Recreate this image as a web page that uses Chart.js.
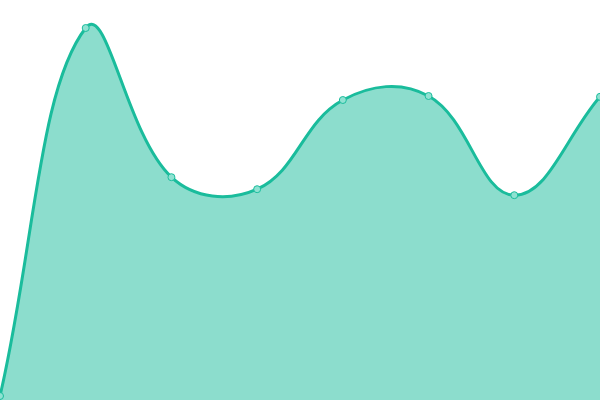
<!DOCTYPE html>
<html>
<head>
<meta charset="utf-8">
<script src="https://cdn.jsdelivr.net/npm/chart.js@4"></script>
<style>
  html, body { margin: 0; padding: 0; background: #fff; }
  #wrap { width: 600px; height: 400px; }
</style>
</head>
<body>
<div id="wrap"><canvas id="areaChart"></canvas></div>
<script>
const labels = ['1', '2', '3', '4', '5', '6', '7', '8'];
const values = [1, 93, 55.7, 52.7, 75, 76, 51.2, 75.8];

const config = {
  type: 'line',
  data: {
    labels: labels,
    datasets: [{
      label: 'Series',
      data: values,
      borderColor: '#1abc9c',
      backgroundColor: 'rgba(26, 188, 156, 0.5)',
      borderWidth: 3,
      fill: true,
      tension: 0.4,
      pointRadius: 3.5,
      pointBackgroundColor: '#8fe2d2',
      pointBorderColor: '#1abc9c',
      pointBorderWidth: 1
    }]
  },
  options: {
    responsive: true,
    maintainAspectRatio: false,
    animation: false,
    // plot runs right to the canvas edges in the reference
    layout: { autoPadding: false, padding: 0 },
    plugins: { legend: { display: false }, tooltip: { enabled: false } },
    scales: {
      x: { display: false },
      y: { display: false, min: 0, max: 100 }
    }
  }
};

new Chart(document.getElementById('areaChart'), config);
</script>
</body>
</html>
